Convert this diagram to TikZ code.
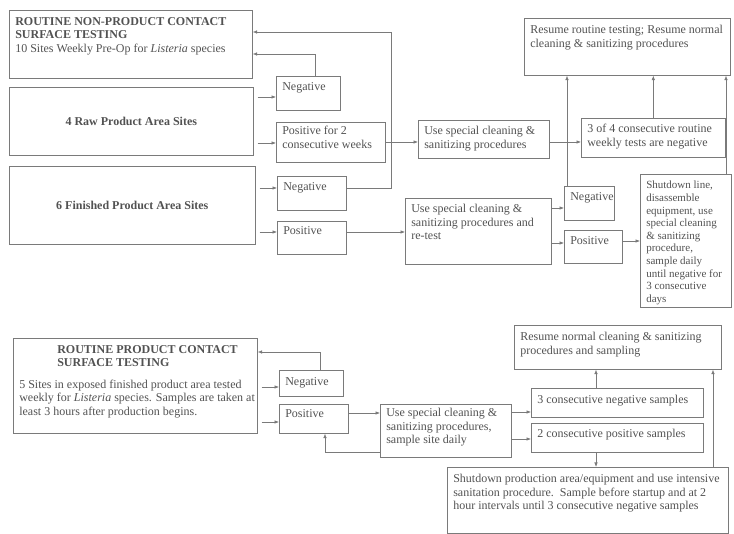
\documentclass[tikz,border=0pt]{standalone}
\usepackage{fontspec}
\setmainfont{Liberation Serif}
\usetikzlibrary{arrows.meta}

\definecolor{ink}{gray}{0.32}
\definecolor{rule}{gray}{0.48}

% name, x, y (top left), width, height, inner vertical position, top pad, text
\newcommand\chartbox[8]{%
  \node[chart, minimum width=#4pt, minimum height=#5pt] (#1) at (#2,#3)
    {\parbox[c][#5pt][#6]{#4pt}{\vspace*{#7pt}\hspace*{6pt}%
      \parbox[t]{\dimexpr#4pt-12pt\relax}{\raggedright#8}}};}

\begin{document}
\begin{tikzpicture}[x=1pt, y=-1pt,
  chart/.style={draw=rule, line width=0.6pt, inner sep=0pt, anchor=north west,
    text=ink, font=\fontsize{12}{13.5}\selectfont},
  flow/.style={draw=rule, line width=0.6pt, -{Latex[length=4.5pt,width=3.5pt]}},
  gap/.style={shorten <=4pt}]
\useasboundingbox (0,0) rectangle (734,534);

% ---------- non-product contact surfaces ----------
\chartbox{TopBox}{9}{10}{243}{68}{t}{7}{\textbf{ROUTINE NON-PRODUCT CONTACT}\\
  \textbf{SURFACE TESTING}\\ 10 Sites Weekly Pre-Op for \textit{Listeria} species}
\chartbox{RawBox}{9}{87}{244}{68}{c}{0}{\centering\textbf{4 Raw Product Area Sites}}
\chartbox{FinBox}{9}{166}{246}{78}{c}{0}{\centering\textbf{6 Finished Product Area Sites}}
\chartbox{NegRaw}{276}{76}{64}{34}{t}{6}{Negative}
\chartbox{PosRaw}{276}{122}{109}{40}{t}{4}{Positive for 2\\ consecutive weeks}
\chartbox{NegFin}{277}{176}{69}{34}{t}{6}{Negative}
\chartbox{PosFin}{277}{221}{69}{33}{t}{5}{Positive}
\chartbox{UseTop}{418}{120}{131}{38}{t}{6}{Use special cleaning \&\\ sanitizing procedures}
\chartbox{ThreeFour}{581}{118}{144}{39}{t}{6}{3 of 4 consecutive routine\\ weekly tests are negative}
\chartbox{Resume}{524}{18}{206}{57}{t}{7}{Resume routine testing; Resume normal\\
  cleaning \& sanitizing procedures}
\chartbox{Retest}{405}{198}{146}{66}{t}{6}{Use special cleaning \&\\
  sanitizing procedures and\\ re-test}
\chartbox{NegMid}{564}{186}{50}{34}{t}{6}{Negative}
\chartbox{PosMid}{564}{230}{58}{33}{t}{6}{Positive}
\chartbox{ShutLine}{640}{174}{91}{133}{t}{7}{\fontsize{11}{12.6}\selectfont
  Shutdown line,\\ disassemble\\
  equipment, use\\ special cleaning\\ \& sanitizing\\ procedure,\\ sample daily\\
  until negative for\\ 3 consecutive\\ days}

% ---------- product contact surfaces ----------
\chartbox{ProdBox}{13}{338}{244}{95}{t}{7}{\hspace*{38pt}\textbf{ROUTINE PRODUCT CONTACT}\\
  \hspace*{38pt}\textbf{SURFACE TESTING}\\[8pt]
  \mbox{5 Sites in exposed finished product area tested}\\
  \mbox{weekly for \textit{Listeria} species. Samples are taken at}\\
  \mbox{least 3 hours after production begins.}}
\chartbox{NegBot}{279}{370}{64}{26}{t}{7}{Negative}
\chartbox{PosBot}{279}{404}{69}{29}{t}{5}{Positive}
\chartbox{UseBot}{380}{404}{131}{53}{t}{4}{Use special cleaning \&\\
  sanitizing procedures,\\ sample site daily}
\chartbox{ResumeBot}{514}{325}{207}{44}{t}{7}{Resume normal cleaning \& sanitizing\\
  procedures and sampling}
\chartbox{NegThree}{531}{388}{172}{29}{t}{7}{3 consecutive negative samples}
\chartbox{PosTwo}{531}{423}{172}{29}{t}{6}{2 consecutive positive samples}
\chartbox{ShutProd}{447}{467}{281}{66}{t}{7}{Shutdown production area/equipment and use intensive\\
  sanitation procedure.\ \ Sample before startup and at 2\\
  hour intervals until 3 consecutive negative samples}

% ---------- lanes and bend points ----------
\coordinate (l97)  at (0,97);
\coordinate (l143) at (0,143);
\coordinate (l188) at (0,188);
\coordinate (l232) at (0,232);
\coordinate (l142) at (0,142);
\coordinate (l208) at (0,208);
\coordinate (l243) at (0,243);
\coordinate (l241) at (0,241);
\coordinate (jNegRaw) at (315,54);
\coordinate (jNegFin) at (391,32);
\coordinate (jNegMid) at (567,0);
\coordinate (jShut)   at (726,0);
\coordinate (l387) at (0,387);
\coordinate (l422) at (0,422);
\coordinate (l413) at (0,413);
\coordinate (l412) at (0,412);
\coordinate (l439) at (0,439);
\coordinate (jNegBot) at (320,352);
\coordinate (jLoop)   at (325,452);
\coordinate (jMidBot) at (596,0);
\coordinate (jRight)  at (713,0);

% ---------- connectors, upper chart ----------
\draw[flow, gap] (RawBox.east |- l97)  -- (NegRaw.west |- l97);
\draw[flow, gap] (RawBox.east |- l143) -- (PosRaw.west |- l143);
\draw[flow, gap] (FinBox.east |- l188) -- (NegFin.west |- l188);
\draw[flow, gap] (FinBox.east |- l232) -- (PosFin.west |- l232);
\draw[flow] (NegRaw.north -| jNegRaw) -- (jNegRaw) -- (TopBox.east |- jNegRaw);
\draw[flow] (NegFin.east |- l188) -| (jNegFin) -- (TopBox.east |- jNegFin);
\draw[flow] (PosRaw.east |- l142) -- (UseTop.west |- l142);
\draw[flow] (UseTop.east |- l142) -- (ThreeFour.west |- l142);
\draw[flow] (ThreeFour.north) -- (Resume.south -| ThreeFour.north);
\draw[flow] (NegMid.north -| jNegMid) -- (Resume.south -| jNegMid);
\draw[flow] (ShutLine.north -| jShut) -- (Resume.south -| jShut);
\draw[flow] (PosFin.east |- l232) -- (Retest.west |- l232);
\draw[flow] (Retest.east |- l208) -- (NegMid.west |- l208);
\draw[flow] (Retest.east |- l243) -- (PosMid.west |- l243);
\draw[flow] (PosMid.east |- l241) -- (ShutLine.west |- l241);

% ---------- connectors, lower chart ----------
\draw[flow, gap] (ProdBox.east |- l387) -- (NegBot.west |- l387);
\draw[flow, gap] (ProdBox.east |- l422) -- (PosBot.west |- l422);
\draw[flow] (NegBot.north -| jNegBot) -- (jNegBot) -- (ProdBox.east |- jNegBot);
\draw[flow] (PosBot.east |- l413) -- (UseBot.west |- l413);
\draw[flow] (UseBot.west |- jLoop) -- (jLoop) -- (PosBot.south -| jLoop);
\draw[flow] (UseBot.east |- l412) -- (NegThree.west |- l412);
\draw[flow] (UseBot.east |- l439) -- (PosTwo.west |- l439);
\draw[flow] (NegThree.north -| jMidBot) -- (ResumeBot.south -| jMidBot);
\draw[flow] (PosTwo.south -| jMidBot) -- (ShutProd.north -| jMidBot);
\draw[flow] (ShutProd.north -| jRight) -- (ResumeBot.south -| jRight);
\end{tikzpicture}
\end{document}
